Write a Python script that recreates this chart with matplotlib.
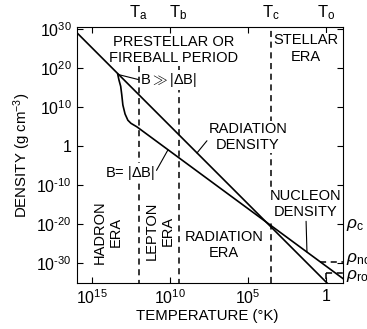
import matplotlib
matplotlib.use('Agg')
import matplotlib.pyplot as plt
import numpy as np

plt.rcParams['font.family'] = ['Liberation Sans Narrow', 'Liberation Sans', 'DejaVu Sans']
plt.rcParams['mathtext.fontset'] = 'custom'
plt.rcParams['mathtext.rm'] = 'Liberation Sans'
plt.rcParams['mathtext.it'] = 'Liberation Sans:italic'

# values, as log10 (T in K, density in g cm-3)
rad_logT = [15.96, -0.06]
rad_logrho = [29.0, -35.1]

nuc_logT = [13.35, 13.27, 13.16, 13.09, 13.02, 12.88, 12.70, 12.50, 12.12, -1.09]
nuc_logrho = [18.4, 16.9, 15.3, 13.1, 10.5, 8.2, 6.6, 5.8, 4.9, -34.0]

# epochs marked on the top axis
epoch_names = ['T$_\\mathrm{a}$', 'T$_\\mathrm{b}$', 'T$_\\mathrm{c}$', 'T$_\\mathrm{o}$']
epoch_logT = [12.0, 9.45, 3.53, -0.03]

x_ticks = [15, 10, 5, 0]
x_labels = ['$10^{15}$', '$10^{10}$', '$10^{5}$', '1']
y_ticks = [30, 20, 10, 0, -10, -20, -30]
y_labels = ['$10^{30}$', '$10^{20}$', '$10^{10}$', '1',
            '$10^{\\text{-}10}$', '$10^{\\text{-}20}$', '$10^{\\text{-}30}$']

# present-day densities on the right edge
rho_names = [r'$\rho_\mathrm{c}$', r'$\rho_\mathrm{no}$', r'$\rho_\mathrm{ro}$']
rho_logrho = [-20.3, -29.7, -32.6]

T = lambda a: 10.0 ** np.asarray(a)

fig = plt.figure(figsize=(3.67, 3.29), dpi=100)
ax = fig.add_axes([0.2098, 0.1398, 0.7248, 0.7782])
ax.set_xscale('log')
ax.set_yscale('log')
ax.set_xlim(T(15.96), T(-1.09))
ax.set_ylim(T(-35.13), T(30.5))

ax.plot(T(rad_logT), T(rad_logrho), color='black', lw=1.2, zorder=3)
ax.plot(T(nuc_logT), T(nuc_logrho), color='black', lw=1.2, zorder=3)

# era boundaries
dash = dict(color='black', lw=1.1, linestyle=(0, (4, 3)), zorder=1.5)
ax.plot([T(epoch_logT[0])] * 2, [T(20.5), T(-35.13)], **dash)
ax.plot([T(epoch_logT[1])] * 2, [T(20.8), T(-35.13)], **dash)
ax.axvline(T(epoch_logT[2]), **dash)
ax.plot([T(0.37), T(-1.09)], [T(rho_logrho[1])] * 2, **dash)
ax.plot([T(epoch_logT[3]), T(-1.09)], [T(rho_logrho[2])] * 2, **dash)
ax.plot([T(epoch_logT[3])] * 2, [T(rho_logrho[2]), T(-35.13)], **dash)

xtr = ax.get_xaxis_transform()
for name, lt in zip(epoch_names, epoch_logT):
    ax.text(T(lt), 1.02, name, transform=xtr, ha='center', va='bottom', fontsize=12)

for name, lr in zip(rho_names, [-20.3, -29.0, -33.4]):
    ax.text(T(-1.3), T(lr), name, ha='left', va='center', fontsize=12.5, clip_on=False)

box = dict(facecolor='white', edgecolor='none', pad=0.5)
txt = dict(ha='center', va='center', fontsize=10.5, bbox=box, zorder=2, linespacing=1.2)
ax.text(T(9.74), T(24.6), 'PRESTELLAR OR\nFIREBALL PERIOD', **txt)
ax.text(T(1.28), T(25.0), 'STELLAR\nERA', **txt)
ax.text(T(14.0), T(-22.0), 'HADRON\nERA', rotation=90, **txt)
ax.text(T(10.64), T(-21.8), 'LEPTON\nERA', rotation=90, **txt)
ax.text(T(6.54), T(-25.3), 'RADIATION\nERA', **txt)

line = dict(arrowstyle='-', color='black', lw=0.8, shrinkA=1, shrinkB=0)
ax.annotate('B$\\gg$|$\\Delta$B|', xy=(T(13.3), T(18.3)), xytext=(T(11.9), T(16.9)),
            ha='left', va='center', fontsize=10.5, bbox=box, zorder=2,
            arrowprops=dict(relpos=(0, 0.5), **line))
ax.annotate('B= |$\\Delta$B|', xy=(T(10.13), T(-1.0)), xytext=(T(12.56), T(-6.9)),
            ha='center', va='center', fontsize=10.5, bbox=box, zorder=2,
            arrowprops=dict(relpos=(1, 0.5), **line))
ax.annotate('RADIATION\nDENSITY', xy=(T(8.27), T(-1.8)), xytext=(T(5.0), T(2.3)),
            arrowprops=dict(relpos=(0.05, 0.6), **line), **txt)
ax.annotate('NUCLEON\nDENSITY', xy=(T(1.22), T(-27.2)), xytext=(T(1.28), T(-14.9)),
            arrowprops=dict(relpos=(0.5, 0), **line), **txt)

ax.set_xticks(T(x_ticks))
ax.set_xticklabels(x_labels, fontsize=11.5)
ax.set_yticks(T(y_ticks))
ax.set_yticklabels(y_labels, fontsize=11.5)
ax.minorticks_off()
ax.tick_params(direction='in', length=4, width=0.8, top=True, right=True, pad=4)

ax.set_xlabel('TEMPERATURE (°K)', fontsize=10.8)
ax.set_ylabel('DENSITY (g cm$^{-3}$)', fontsize=10.8)
ax.xaxis.set_label_coords(0.49, -0.1)
ax.yaxis.set_label_coords(-0.165, 0.5)

fig.savefig('out.png', dpi=100)
